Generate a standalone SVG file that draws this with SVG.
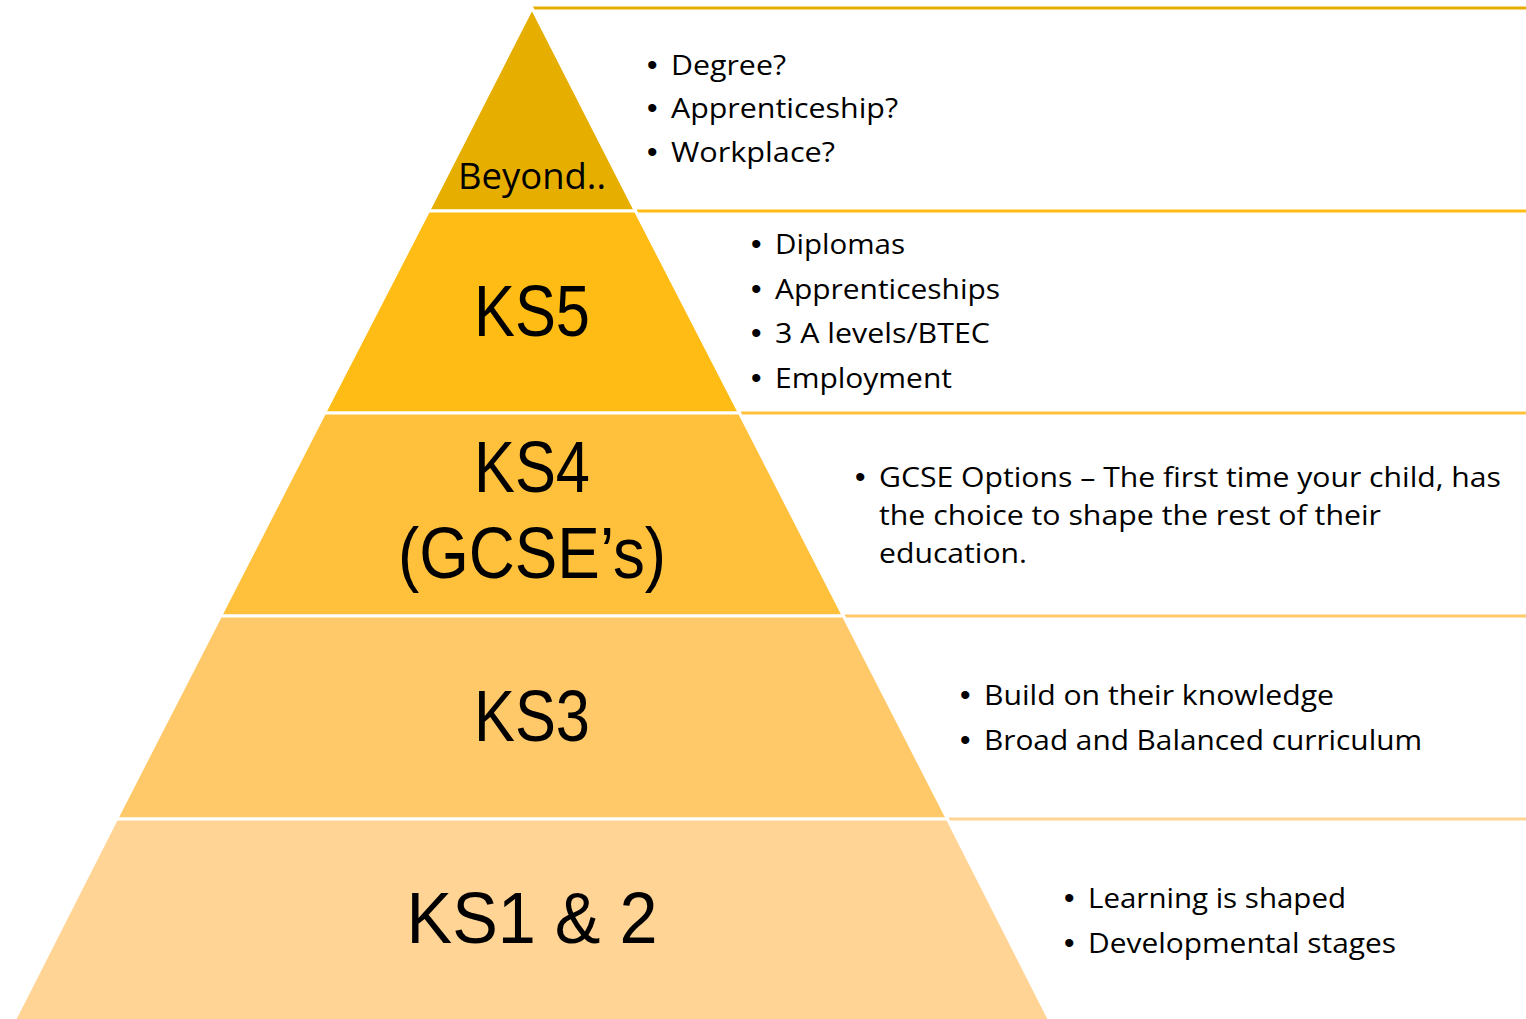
<svg xmlns="http://www.w3.org/2000/svg" width="1526" height="1019" viewBox="0 0 1526 1019">
<style>
.band{stroke:#FFFFFF;stroke-width:3;stroke-linejoin:miter}
.lvl{font-family:"Liberation Sans",Arial,sans-serif;fill:#000;text-anchor:middle}
.sm{font-family:"Open Sans","Liberation Sans",sans-serif;fill:#000;text-anchor:middle}
.txt{font-family:"Open Sans","Liberation Sans",sans-serif;font-size:27px;fill:#000}
.bul{font-family:"Liberation Sans",Arial,sans-serif;font-size:30px;fill:#000}
.rule{stroke-width:3;fill:none}
</style>
<rect x="0" y="0" width="1526" height="1019" fill="#FFFFFF"/>
<g id="connectors">
<line class="rule" x1="532" y1="8" x2="1526" y2="8" stroke="#E6AF00"/>
<line class="rule" x1="637" y1="211" x2="1526" y2="211" stroke="#FFBC15"/>
<line class="rule" x1="741" y1="413" x2="1526" y2="413" stroke="#FFC13C"/>
<line class="rule" x1="845" y1="616" x2="1526" y2="616" stroke="#FFC96A"/>
<line class="rule" x1="949" y1="819" x2="1526" y2="819" stroke="#FFD494"/>
</g>
<g id="level-beyond">
<polygon class="band" points="532,8 635.5,211 428.5,211" fill="#E6AF00"/>
<text class="sm" x="532" y="189" font-size="36" textLength="148" lengthAdjust="spacingAndGlyphs">Beyond..</text>
<text class="bul" x="647" y="75">•</text><text class="txt" x="671" y="75" textLength="115" lengthAdjust="spacingAndGlyphs">Degree?</text>
<text class="bul" x="647" y="118">•</text><text class="txt" x="671" y="118" textLength="227" lengthAdjust="spacingAndGlyphs">Apprenticeship?</text>
<text class="bul" x="647" y="162">•</text><text class="txt" x="671" y="162" textLength="164" lengthAdjust="spacingAndGlyphs">Workplace?</text>
</g>
<g id="level-ks5">
<polygon class="band" points="428.5,211 635.5,211 739.5,413 324.5,413" fill="#FFBC15"/>
<text class="lvl" x="532" y="336" font-size="72" textLength="116" lengthAdjust="spacingAndGlyphs">KS5</text>
<text class="bul" x="751" y="254">•</text><text class="txt" x="775" y="254" textLength="130" lengthAdjust="spacingAndGlyphs">Diplomas</text>
<text class="bul" x="751" y="299">•</text><text class="txt" x="775" y="299" textLength="225" lengthAdjust="spacingAndGlyphs">Apprenticeships</text>
<text class="bul" x="751" y="343">•</text><text class="txt" x="775" y="343" textLength="215" lengthAdjust="spacingAndGlyphs">3 A levels/BTEC</text>
<text class="bul" x="751" y="388">•</text><text class="txt" x="775" y="388" textLength="177" lengthAdjust="spacingAndGlyphs">Employment</text>
</g>
<g id="level-ks4">
<polygon class="band" points="324.5,413 739.5,413 843.5,616 220.5,616" fill="#FFC13C"/>
<text class="lvl" x="532" y="492" font-size="72" textLength="116" lengthAdjust="spacingAndGlyphs">KS4</text>
<text class="lvl" x="532" y="578" font-size="72" textLength="268" lengthAdjust="spacingAndGlyphs">(GCSE’s)</text>
<text class="bul" x="855" y="487">•</text><text class="txt" x="879" y="487" textLength="622" lengthAdjust="spacingAndGlyphs">GCSE Options – The first time your child, has</text>
<text class="txt" x="879" y="525" textLength="502" lengthAdjust="spacingAndGlyphs">the choice to shape the rest of their</text>
<text class="txt" x="879" y="563" textLength="148" lengthAdjust="spacingAndGlyphs">education.</text>
</g>
<g id="level-ks3">
<polygon class="band" points="220.5,616 843.5,616 947.5,819 116.5,819" fill="#FFC96A"/>
<text class="lvl" x="532" y="741" font-size="72" textLength="116" lengthAdjust="spacingAndGlyphs">KS3</text>
<text class="bul" x="960" y="705">•</text><text class="txt" x="984" y="705" textLength="350" lengthAdjust="spacingAndGlyphs">Build on their knowledge</text>
<text class="bul" x="960" y="750">•</text><text class="txt" x="984" y="750" textLength="438" lengthAdjust="spacingAndGlyphs">Broad and Balanced curriculum</text>
</g>
<g id="level-ks12">
<polygon class="band" points="116.5,819 947.5,819 1052,1025 12,1025" fill="#FFD494"/>
<text class="lvl" x="532" y="943" font-size="72" textLength="251" lengthAdjust="spacingAndGlyphs">KS1 &amp; 2</text>
<text class="bul" x="1064" y="908">•</text><text class="txt" x="1088" y="908" textLength="258" lengthAdjust="spacingAndGlyphs">Learning is shaped</text>
<text class="bul" x="1064" y="953">•</text><text class="txt" x="1088" y="953" textLength="308" lengthAdjust="spacingAndGlyphs">Developmental stages</text>
</g>
</svg>
